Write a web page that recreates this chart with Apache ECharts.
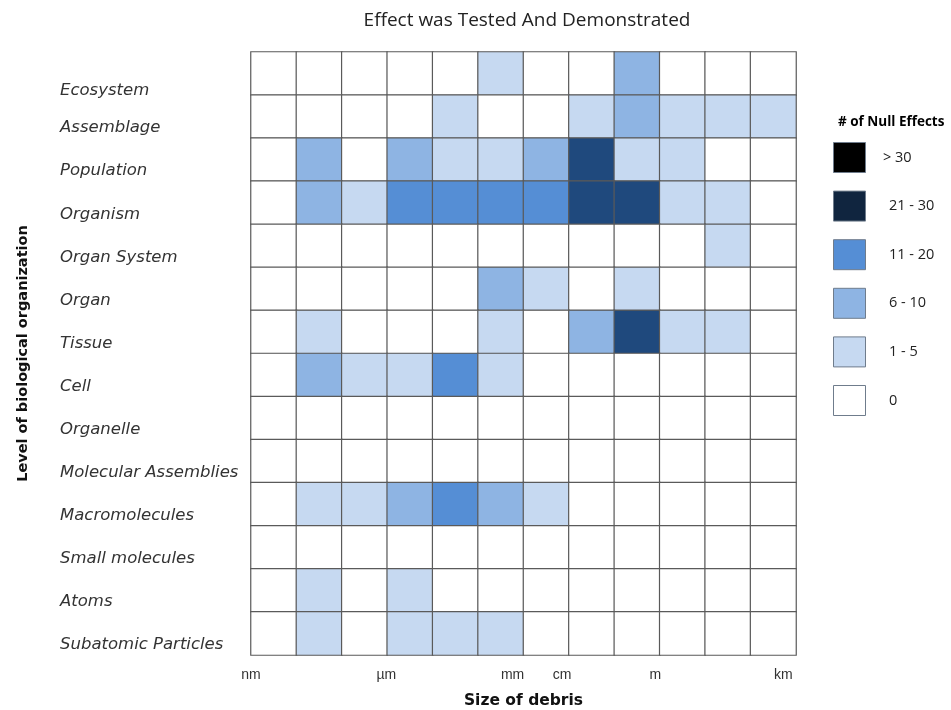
<!DOCTYPE html>
<html>
<head>
<meta charset="utf-8">
<script src="https://cdn.jsdelivr.net/npm/echarts@6/dist/echarts.min.js"></script>
<style>
  html, body { margin: 0; padding: 0; background: #fff; }
  #main { width: 951px; height: 710px; }
</style>
</head>
<body>
<div id="main"></div>
<script>
// columns: one per decade of debris size, 1 nm .. 1 km
const sizeBins = ['1-10 nm', '10-100 nm', '100 nm-1 µm', '1-10 µm', '10-100 µm', '100 µm-1 mm',
  '1 mm-1 cm', '1-10 cm', '10 cm-1 m', '1-10 m', '10-100 m', '100 m-1 km'];
const sizeTickLabels = ['nm', 'µm', 'mm', 'cm', 'm', 'km'];
const sizeTickPos = [0, 2.98, 5.76, 6.85, 8.9, 11.72];

const levels = ['Ecosystem', 'Assemblage', 'Population', 'Organism', 'Organ System', 'Organ',
  'Tissue', 'Cell', 'Organelle', 'Molecular Assemblies', 'Macromolecules', 'Small molecules',
  'Atoms', 'Subatomic Particles'];

// bin index per cell: 0 = 0, 1 = 1-5, 2 = 6-10, 3 = 11-20, 4 = 21-30, 5 = >30
const ecosystem   = [0, 0, 0, 0, 0, 1, 0, 0, 2, 0, 0, 0];
const assemblage  = [0, 0, 0, 0, 1, 0, 0, 1, 2, 1, 1, 1];
const population  = [0, 2, 0, 2, 1, 1, 2, 4, 1, 1, 0, 0];
const organism    = [0, 2, 1, 3, 3, 3, 3, 4, 4, 1, 1, 0];
const organSystem = [0, 0, 0, 0, 0, 0, 0, 0, 0, 0, 1, 0];
const organ       = [0, 0, 0, 0, 0, 2, 1, 0, 1, 0, 0, 0];
const tissue      = [0, 1, 0, 0, 0, 1, 0, 2, 4, 1, 1, 0];
const cell        = [0, 2, 1, 1, 3, 1, 0, 0, 0, 0, 0, 0];
const organelle   = [0, 0, 0, 0, 0, 0, 0, 0, 0, 0, 0, 0];
const molAssembly = [0, 0, 0, 0, 0, 0, 0, 0, 0, 0, 0, 0];
const macromol    = [0, 1, 1, 2, 3, 2, 1, 0, 0, 0, 0, 0];
const smallMol    = [0, 0, 0, 0, 0, 0, 0, 0, 0, 0, 0, 0];
const atoms       = [0, 1, 0, 1, 0, 0, 0, 0, 0, 0, 0, 0];
const subatomic   = [0, 1, 0, 1, 1, 1, 0, 0, 0, 0, 0, 0];

const binLabels = ['0', '1 - 5', '6 - 10', '11 - 20', '21 - 30', '> 30'];
const cellColors = ['#ffffff', '#c6d9f1', '#8eb4e3', '#558ed5', '#1f497d', '#000000'];
const legendColors = ['#ffffff', '#c6d9f1', '#8eb4e3', '#558ed5', '#10253f', '#000000'];

const rows = [ecosystem, assemblage, population, organism, organSystem, organ, tissue, cell,
  organelle, molAssembly, macromol, smallMol, atoms, subatomic];

function buildData() {
  const data = [];
  rows.forEach((row, y) => row.forEach((v, x) => data.push([x, y, v])));
  return data;
}

function legendGraphic() {
  const items = [{
    type: 'text', left: 838, top: 115,
    style: { text: '# of Null Effects', font: 'bold 13.5px "Open Sans"', fill: '#000' }
  }];
  for (let i = 5; i >= 0; i--) {
    const k = 5 - i;
    items.push({
      type: 'rect', left: 833, top: 142 + k * 48.6,
      shape: { width: 32, height: 30 },
      style: { fill: legendColors[i], stroke: '#6f7c8c', lineWidth: 1 }
    });
    items.push({
      type: 'text', left: i === 5 ? 883 : 889, top: 150 + k * 48.6,
      style: { text: binLabels[i], font: '14.5px "Open Sans"', fill: '#222' }
    });
  }
  return items;
}

const chart = echarts.init(document.getElementById('main'));
chart.setOption({
  animation: false,
  title: {
    text: 'Effect was Tested And Demonstrated',
    left: 522, top: 6, textAlign: 'center',
    textStyle: { fontFamily: 'Open Sans', fontSize: 19, fontWeight: 'normal', color: '#222' }
  },
  grid: { left: 251, top: 52, width: 545, height: 603, outerBoundsMode: 'none', containLabel: false },
  xAxis: [{
    type: 'category', data: sizeBins,
    axisLine: { show: false }, axisTick: { show: false }, axisLabel: { show: false },
    splitLine: { show: false },
    name: 'Size of debris', nameLocation: 'middle', nameGap: 38,
    nameTextStyle: { fontFamily: 'DejaVu Sans', fontWeight: 'bold', fontSize: 15.5, color: '#111' }
  }, {
    type: 'value', min: 0, max: 12, position: 'bottom',
    axisLine: { show: false }, axisTick: { show: false }, splitLine: { show: false },
    axisLabel: {
      customValues: sizeTickPos,
      formatter: v => sizeTickLabels[sizeTickPos.indexOf(v)] || '',
      margin: 13, fontFamily: 'Liberation Sans', fontSize: 14, color: '#333'
    }
  }],
  yAxis: {
    type: 'category', data: levels, inverse: true,
    axisLine: { show: false }, axisTick: { show: false }, splitLine: { show: false },
    axisLabel: {
      align: 'left', margin: 191, verticalAlign: 'top', padding: [3, 0, 0, 0],
      fontFamily: 'DejaVu Sans', fontStyle: 'italic', fontSize: 16.5, color: '#333',
      formatter: v => v === 'Ecosystem' ? '{e|' + v + '}' : v,
      rich: { e: { padding: [6, 0, 0, 0], fontFamily: 'DejaVu Sans', fontStyle: 'italic', fontSize: 16.5, color: '#333' } }
    },
    name: 'Level of biological organization', nameLocation: 'middle', nameGap: 220,
    nameTextStyle: { fontFamily: 'DejaVu Sans', fontWeight: 'bold', fontSize: 14.5, color: '#111' }
  },
  visualMap: {
    show: false, type: 'piecewise', dimension: 2, seriesIndex: 0,
    pieces: binLabels.map((label, i) => ({ value: i, label: label, color: cellColors[i] }))
  },
  graphic: legendGraphic(),
  series: [{
    type: 'heatmap',
    data: buildData(),
    itemStyle: { borderColor: '#5a5a5a', borderWidth: 1.2 },
    emphasis: { disabled: true }
  }]
});
</script>
</body>
</html>
